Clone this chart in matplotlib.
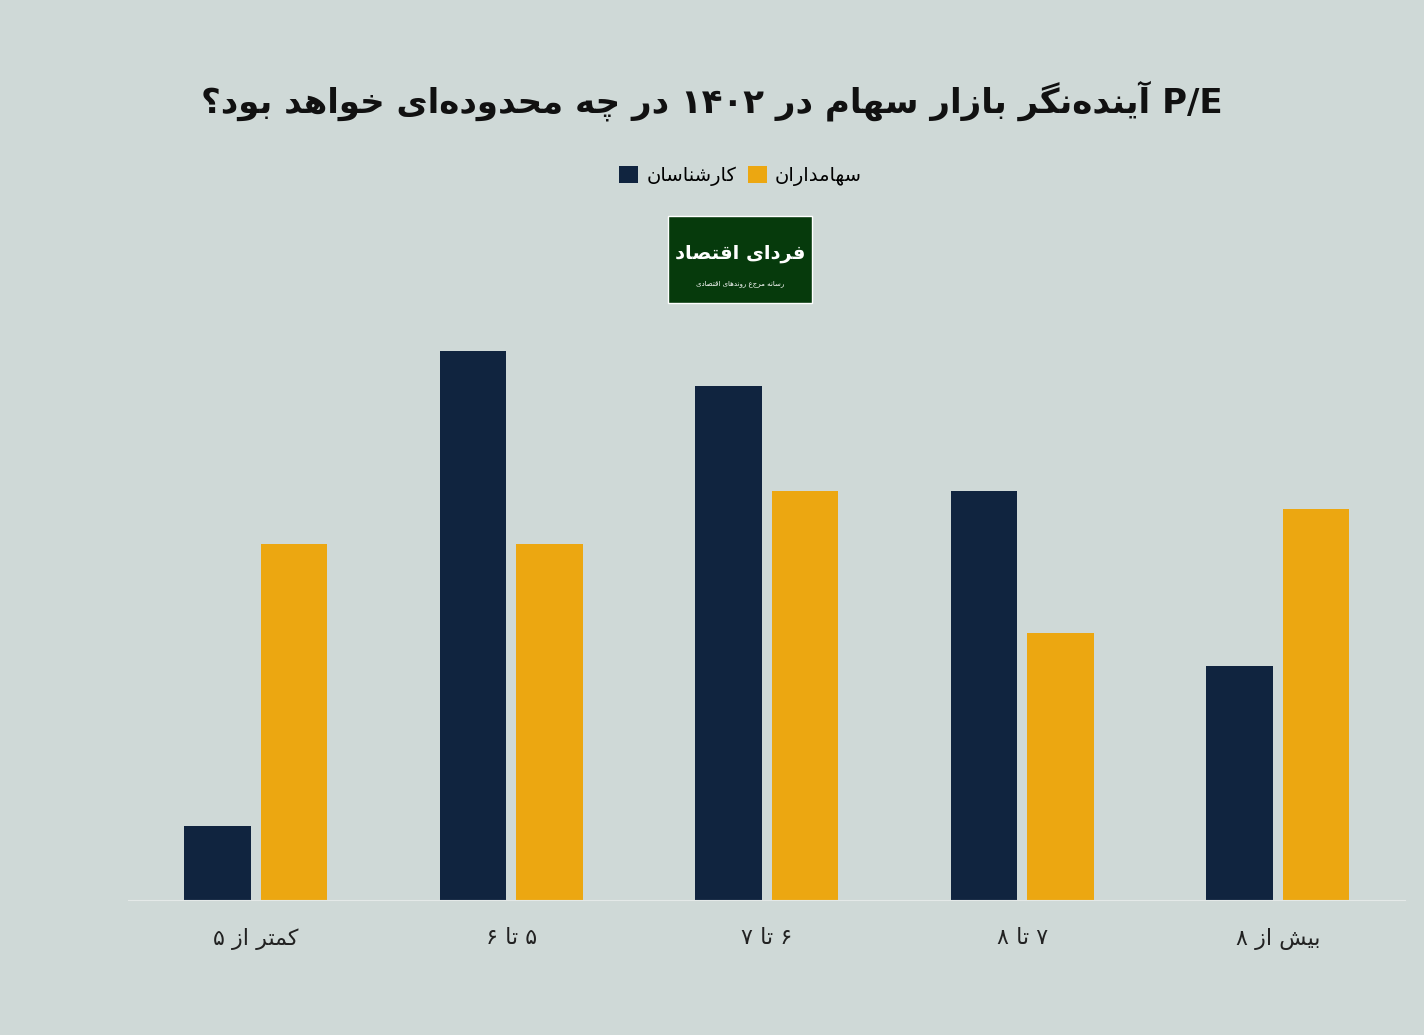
import re
import matplotlib.pyplot as plt
from matplotlib.patches import Rectangle

categories = ['کمتر از ۵', '۵ تا ۶', '۶ تا ۷', '۷ تا ۸', 'بیش از ۸']
experts = [4.2, 31, 29, 23.1, 13.2]      # کارشناسان
holders = [20.1, 20.1, 23.1, 15.1, 22.1]  # سهامداران
title = 'P/E آینده‌نگر بازار سهام در ۱۴۰۲ در چه محدوده‌ای خواهد بود؟'

# minimal arabic/persian shaping: char -> (isolated, final, initial, medial)
F = {
    'ا': (0xFE8D, 0xFE8E), 'آ': (0xFE81, 0xFE82), 'د': (0xFEA9, 0xFEAA),
    'ر': (0xFEAD, 0xFEAE), 'ز': (0xFEAF, 0xFEB0), 'و': (0xFEED, 0xFEEE),
    'ب': (0xFE8F, 0xFE90, 0xFE91, 0xFE92), 'ت': (0xFE95, 0xFE96, 0xFE97, 0xFE98),
    'چ': (0xFB7A, 0xFB7B, 0xFB7C, 0xFB7D), 'ح': (0xFEA1, 0xFEA2, 0xFEA3, 0xFEA4),
    'خ': (0xFEA5, 0xFEA6, 0xFEA7, 0xFEA8), 'س': (0xFEB1, 0xFEB2, 0xFEB3, 0xFEB4),
    'ش': (0xFEB5, 0xFEB6, 0xFEB7, 0xFEB8), 'ص': (0xFEB9, 0xFEBA, 0xFEBB, 0xFEBC),
    'ع': (0xFEC9, 0xFECA, 0xFECB, 0xFECC), 'ف': (0xFED1, 0xFED2, 0xFED3, 0xFED4),
    'ق': (0xFED5, 0xFED6, 0xFED7, 0xFED8), 'ک': (0xFB8E, 0xFB8F, 0xFB90, 0xFB91),
    'گ': (0xFB92, 0xFB93, 0xFB94, 0xFB95), 'ل': (0xFEDD, 0xFEDE, 0xFEDF, 0xFEE0),
    'م': (0xFEE1, 0xFEE2, 0xFEE3, 0xFEE4), 'ن': (0xFEE5, 0xFEE6, 0xFEE7, 0xFEE8),
    'ه': (0xFEE9, 0xFEEA, 0xFEEB, 0xFEEC), 'ی': (0xFBFC, 0xFBFD, 0xFBFE, 0xFBFF),
}


def shape(s):
    out = []
    for i, c in enumerate(s):
        if c not in F:
            if c != '\u200c':
                out.append(c)
            continue
        prev = s[i - 1] if i > 0 else ''
        nxt = s[i + 1] if i + 1 < len(s) else ''
        jp = prev in F and len(F[prev]) == 4
        jn = nxt in F and len(F[c]) == 4
        f = F[c]
        if jp and jn:
            out.append(chr(f[3]))
        elif jp:
            out.append(chr(f[1]))
        elif jn:
            out.append(chr(f[2]))
        else:
            out.append(chr(f[0]))
    return ''.join(out)


def fa(s):
    s = shape(s)
    runs = re.findall(r'[A-Za-z0-9/\u06F0-\u06F9]+|[^A-Za-z0-9/\u06F0-\u06F9]+', s)
    runs = [r if re.match(r'[A-Za-z0-9/\u06F0-\u06F9]', r) else r[::-1] for r in runs]
    return ''.join(runs[::-1])


bg = '#cfd9d7'
navy = '#10243f'
orange = '#eca711'
plt.rcParams['font.family'] = ['DejaVu Sans']

fig = plt.figure(figsize=(14.24, 10.35), dpi=100, facecolor=bg)
ax = fig.add_axes([0.09, 0.13, 0.897, 0.531])
ax.set_facecolor(bg)
x = range(len(categories))
ax.bar([i - 0.15 for i in x], experts, width=0.26, color=navy, label=fa('کارشناسان'))
ax.bar([i + 0.15 for i in x], holders, width=0.26, color=orange, label=fa('سهامداران'))
ax.set_xlim(-0.5, 4.5)
ax.set_ylim(0, 31)
ax.set_xticks(list(x))
ax.set_xticklabels([fa(c) for c in categories], fontsize=16, color='#222222')
ax.tick_params(axis='x', length=0, pad=20)
ax.set_yticks([])
for s in ['top', 'left', 'right']:
    ax.spines[s].set_visible(False)
ax.spines['bottom'].set_color('#e4e9e8')

fig.text(0.5, 0.903, fa(title), ha='center', va='center', fontsize=24.5, fontweight='bold', color='#111111')
fig.legend(loc='center', bbox_to_anchor=(0.52, 0.83), ncol=2, frameon=False, fontsize=14,
           handlelength=1.0, handleheight=1.0, columnspacing=0.6, handletextpad=0.4)

# logo box
fig.patches.append(Rectangle((0.469, 0.707), 0.101, 0.084, transform=fig.transFigure,
                             facecolor='#063a0c', edgecolor='white', lw=1))
fig.text(0.5195, 0.755, fa('فردای اقتصاد'), ha='center', va='center', fontsize=14,
         fontweight='bold', color='white')
fig.text(0.5195, 0.726, fa('رسانه مرجع روندهای اقتصادی'), ha='center', va='center',
         fontsize=5, color='white')

fig.savefig('out.png', dpi=100, facecolor=bg)
